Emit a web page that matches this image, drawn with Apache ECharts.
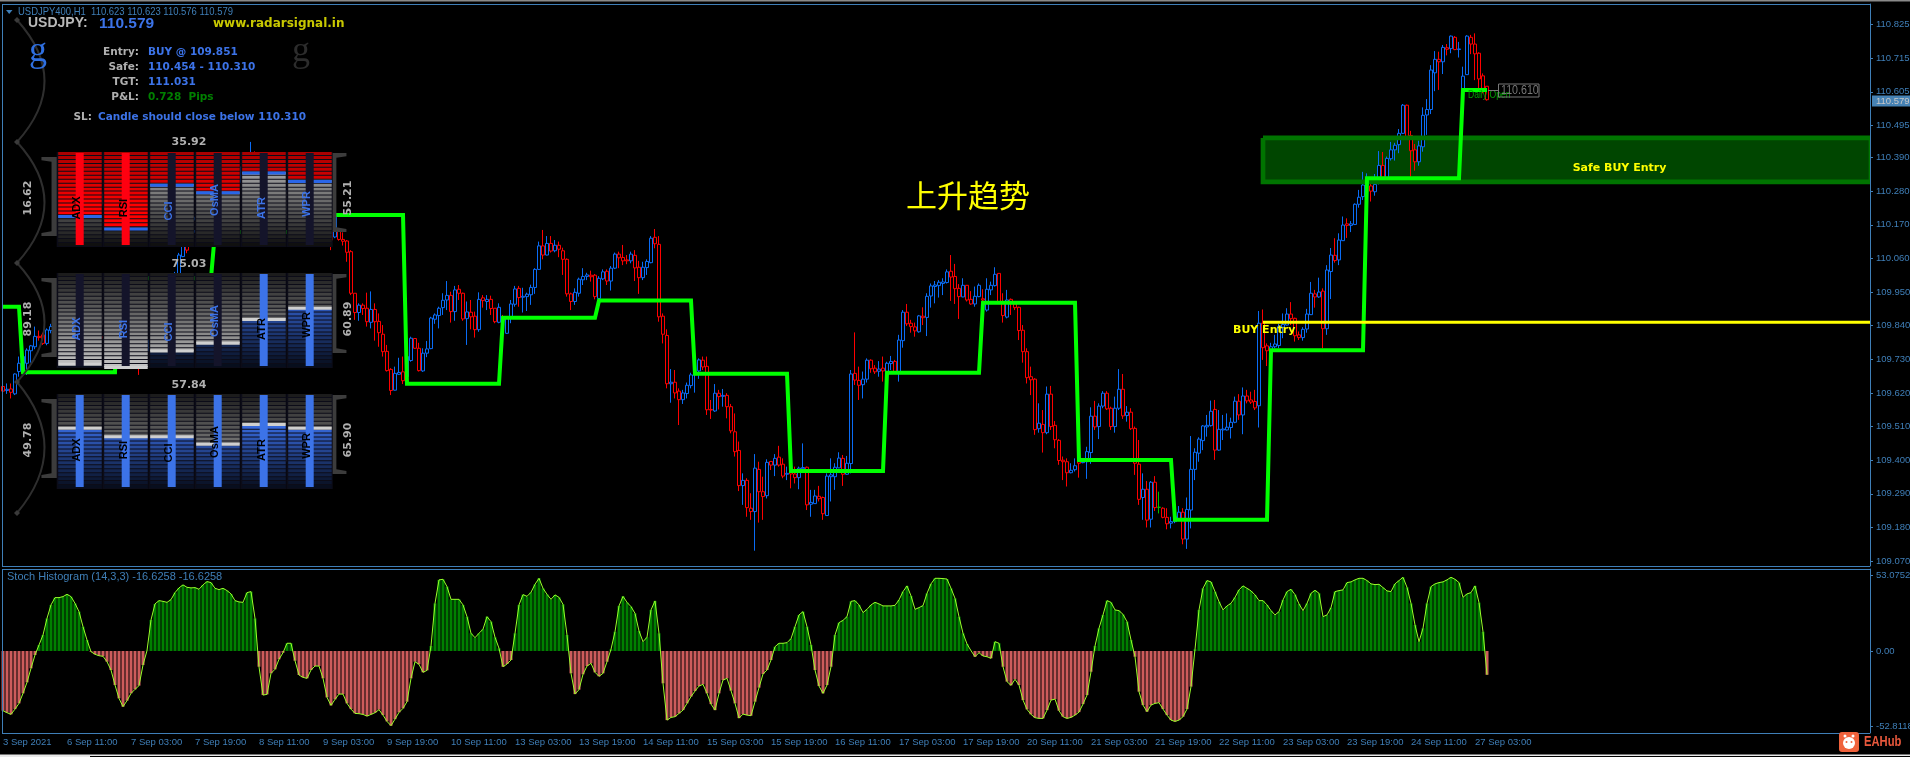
<!DOCTYPE html>
<html><head><meta charset="utf-8"><style>html,body{margin:0;padding:0;background:#000;overflow:hidden}#c{width:1910px;height:757px}</style>
<script src="https://cdn.jsdelivr.net/npm/echarts@6/dist/echarts.min.js"></script></head><body><div id="c"></div>
<script>
const opens=[109.641,109.628,109.633,109.617,109.690,109.690,109.717,109.758,109.771,109.805,
109.810,109.782,109.824,109.837,109.788,109.760,109.791,109.815,109.774,109.739,
109.769,109.802,109.837,109.793,109.819,109.848,109.806,109.769,109.791,109.820,
109.780,109.810,109.758,109.726,109.771,109.717,109.758,109.793,109.769,109.824,
109.856,109.902,109.874,109.944,110.005,110.066,110.120,110.104,110.151,110.186,
110.156,110.216,110.240,110.205,110.271,110.295,110.260,110.314,110.344,110.308,
110.360,110.325,110.384,110.404,110.365,110.325,110.371,110.344,110.292,110.327,
110.284,110.238,110.273,110.222,110.267,110.220,110.178,110.229,110.183,110.218,
110.161,110.123,110.175,110.130,110.153,110.122,110.117,110.082,109.946,109.883,
109.907,109.897,109.851,109.893,109.854,109.812,109.756,109.697,109.629,109.681,
109.689,109.673,109.726,109.798,109.766,109.692,109.750,109.765,109.861,109.873,
109.899,109.924,109.939,109.886,109.959,109.946,109.863,109.884,109.871,109.827,
109.931,109.919,109.926,109.897,109.851,109.869,109.815,109.864,109.910,109.962,
109.933,109.935,109.941,109.965,110.024,110.101,110.071,110.109,110.085,110.103,
110.085,110.057,109.944,109.919,109.946,109.990,110.001,110.005,110.005,109.929,
109.993,110.018,109.986,110.028,110.074,110.063,110.055,110.052,110.070,110.031,
109.997,110.030,110.046,110.129,110.106,109.871,109.808,109.650,109.655,109.626,
109.598,109.618,109.644,109.679,109.692,109.727,109.707,109.566,109.561,109.619,
109.609,109.612,109.575,109.493,109.432,109.317,109.334,109.243,109.232,109.370,
109.297,109.284,109.396,109.384,109.410,109.387,109.354,109.366,109.355,109.343,
109.372,109.377,109.256,109.258,109.282,109.278,109.219,109.346,109.346,109.375,
109.406,109.354,109.389,109.684,109.661,109.647,109.665,109.727,109.701,109.691,
109.701,109.690,109.716,109.723,109.690,109.791,109.884,109.848,109.836,109.820,
109.871,109.867,109.937,109.968,109.971,109.978,109.981,110.018,110.001,109.962,
109.934,109.972,109.926,109.911,109.935,109.928,109.891,109.957,109.971,110.011,
109.919,109.868,109.926,109.911,109.900,109.825,109.755,109.673,109.665,109.503,
109.517,109.490,109.616,109.514,109.465,109.400,109.395,109.359,109.369,109.395,
109.392,109.395,109.425,109.544,109.510,109.577,109.619,109.570,109.510,109.570,
109.632,109.546,109.557,109.504,109.387,109.278,109.305,109.207,109.328,109.246,
109.243,109.213,109.194,109.199,109.207,109.230,109.142,109.237,109.370,109.423,
109.464,109.509,109.513,109.566,109.433,109.499,109.499,109.507,109.524,109.593,
109.548,109.610,109.597,109.592,109.578,109.848,109.774,109.760,109.771,109.775,
109.835,109.842,109.878,109.864,109.810,109.801,109.829,109.876,109.944,109.934,
109.953,109.830,110.017,110.070,110.055,110.118,110.173,110.168,110.171,110.237,
110.262,110.300,110.297,110.278,110.306,110.364,110.323,110.386,110.415,110.432,
110.469,110.561,110.462,110.415,110.376,110.425,110.529,110.547,110.667,110.711,
110.703,110.749,110.746,110.783,110.743,110.613,110.661,110.783,110.761,110.731,110.657,110.623];
const closes=[109.626,109.632,109.622,109.682,109.717,109.739,109.760,109.774,109.805,109.801,
109.782,109.826,109.837,109.788,109.760,109.793,109.815,109.771,109.739,109.771,
109.804,109.837,109.793,109.820,109.848,109.804,109.771,109.793,109.820,109.782,
109.810,109.755,109.728,109.771,109.717,109.760,109.793,109.771,109.826,109.859,
109.902,109.875,109.946,110.006,110.071,110.120,110.087,110.153,110.186,110.158,
110.218,110.240,110.207,110.273,110.295,110.262,110.316,110.344,110.311,110.360,
110.327,110.387,110.404,110.365,110.327,110.371,110.344,110.295,110.327,110.284,
110.240,110.273,110.224,110.267,110.218,110.180,110.229,110.186,110.218,110.158,
110.126,110.175,110.120,110.195,110.122,110.116,110.080,109.946,109.883,109.907,
109.896,109.853,109.893,109.853,109.817,109.755,109.693,109.628,109.684,109.687,
109.660,109.739,109.799,109.766,109.693,109.750,109.764,109.865,109.875,109.897,
109.923,109.939,109.886,109.957,109.946,109.862,109.885,109.869,109.827,109.926,
109.922,109.926,109.896,109.853,109.900,109.859,109.864,109.911,109.960,109.932,
109.936,109.943,109.965,110.024,110.101,110.071,110.109,110.084,110.103,110.090,
110.057,109.944,109.919,109.949,109.992,110.001,110.006,110.000,109.935,109.995,
110.016,109.986,110.028,110.074,110.062,110.052,110.052,110.074,110.029,109.997,
110.031,110.050,110.126,110.108,109.869,109.812,109.650,109.655,109.620,109.598,
109.620,109.645,109.679,109.684,109.728,109.705,109.565,109.564,109.619,109.608,
109.612,109.575,109.496,109.428,109.317,109.334,109.245,109.232,109.374,109.297,
109.281,109.393,109.384,109.406,109.384,109.348,109.357,109.355,109.343,109.374,
109.376,109.254,109.262,109.283,109.274,109.225,109.348,109.352,109.377,109.407,
109.354,109.390,109.682,109.662,109.645,109.665,109.727,109.699,109.689,109.698,
109.692,109.717,109.723,109.690,109.793,109.884,109.846,109.837,109.823,109.872,
109.866,109.936,109.970,109.973,109.982,109.983,110.016,109.999,109.961,109.935,
109.972,109.924,109.911,109.936,109.972,109.924,109.959,109.972,110.008,109.919,
109.873,109.924,109.913,109.899,109.824,109.755,109.670,109.663,109.500,109.521,
109.490,109.616,109.510,109.467,109.399,109.395,109.359,109.367,109.382,109.390,
109.395,109.428,109.544,109.509,109.577,109.619,109.568,109.510,109.570,109.632,
109.545,109.557,109.503,109.390,109.272,109.305,109.204,109.328,109.245,109.246,
109.213,109.192,109.199,109.215,109.230,109.142,109.239,109.370,109.426,109.469,
109.512,109.514,109.560,109.433,109.501,109.502,109.508,109.524,109.593,109.548,
109.610,109.594,109.590,109.571,109.848,109.768,109.758,109.771,109.780,109.837,
109.844,109.878,109.863,109.807,109.801,109.828,109.878,109.946,109.934,109.950,
109.830,110.022,110.071,110.053,110.120,110.169,110.168,110.173,110.237,110.260,
110.300,110.316,110.280,110.302,110.364,110.325,110.387,110.415,110.430,110.469,
110.561,110.458,110.412,110.376,110.428,110.528,110.547,110.676,110.711,110.703,
110.750,110.744,110.787,110.743,110.745,110.656,110.787,110.761,110.729,110.647,110.616,110.579];
const lows=[109.592,109.617,109.602,109.613,109.673,109.684,109.679,109.719,109.763,109.791,
109.777,109.776,109.815,109.774,109.752,109.754,109.784,109.765,109.732,109.732,
109.763,109.795,109.787,109.787,109.813,109.798,109.763,109.763,109.784,109.776,
109.774,109.747,109.721,109.719,109.679,109.710,109.752,109.765,109.765,109.817,
109.850,109.867,109.867,109.940,110.002,110.064,110.077,110.098,110.144,110.151,
110.151,110.207,110.199,110.199,110.262,110.255,110.253,110.306,110.303,110.301,
110.319,110.316,110.377,110.358,110.319,110.316,110.336,110.288,110.284,110.275,
110.231,110.229,110.216,110.214,110.210,110.173,110.170,110.177,110.175,110.151,
110.118,110.116,110.087,110.126,110.118,110.102,110.049,109.940,109.859,109.856,
109.875,109.837,109.831,109.791,109.771,109.739,109.690,109.613,109.628,109.679,
109.649,109.657,109.722,109.764,109.690,109.689,109.737,109.763,109.846,109.831,
109.875,109.891,109.850,109.856,109.924,109.856,109.777,109.828,109.801,109.820,
109.899,109.891,109.875,109.848,109.848,109.842,109.813,109.848,109.902,109.902,
109.883,109.888,109.908,109.944,110.022,110.057,110.070,110.079,110.080,110.064,
110.006,109.935,109.891,109.908,109.935,109.973,109.989,109.984,109.926,109.919,
109.989,109.973,109.955,110.025,110.028,110.038,110.041,110.044,109.986,109.944,
109.989,110.006,110.044,110.093,109.853,109.782,109.635,109.588,109.602,109.515,
109.584,109.602,109.635,109.621,109.666,109.695,109.548,109.535,109.558,109.566,
109.575,109.537,109.488,109.412,109.299,109.254,109.215,109.205,109.104,109.196,
109.205,109.275,109.368,109.348,109.379,109.341,109.335,109.308,109.324,109.305,
109.366,109.237,109.215,109.257,109.265,109.205,109.218,109.265,109.303,109.374,
109.316,109.352,109.357,109.646,109.597,109.602,109.654,109.686,109.682,109.673,
109.657,109.684,109.695,109.686,109.657,109.768,109.839,109.817,109.804,109.817,
109.842,109.806,109.899,109.913,109.932,109.940,109.978,109.921,109.911,109.862,
109.933,109.919,109.908,109.902,109.933,109.913,109.886,109.940,109.968,109.913,
109.850,109.864,109.875,109.891,109.793,109.719,109.651,109.613,109.483,109.490,
109.425,109.485,109.499,109.439,109.385,109.335,109.314,109.357,109.363,109.343,
109.390,109.339,109.388,109.499,109.469,109.570,109.564,109.499,109.490,109.564,
109.535,109.526,109.499,109.352,109.254,109.205,109.180,109.180,109.234,109.226,
109.210,109.174,109.177,109.194,109.205,109.125,109.110,109.177,109.335,109.395,
109.433,109.477,109.510,109.401,109.431,109.466,109.497,109.471,109.521,109.532,
109.485,109.586,109.584,109.564,109.507,109.728,109.708,109.755,109.766,109.766,
109.799,109.841,109.842,109.788,109.793,109.791,109.817,109.875,109.899,109.931,
109.766,109.810,109.927,110.046,110.038,110.117,110.127,110.146,110.169,110.226,
110.251,110.284,110.246,110.265,110.302,110.322,110.321,110.380,110.380,110.404,
110.467,110.456,110.327,110.347,110.363,110.409,110.464,110.532,110.607,110.611,
110.663,110.724,110.731,110.741,110.717,110.611,110.660,110.728,110.643,110.616,110.600,110.576];
const highs=[109.654,109.651,109.651,109.684,109.739,109.750,109.766,109.777,109.837,109.824,
109.817,109.831,109.846,109.848,109.793,109.802,109.824,109.822,109.780,109.778,
109.813,109.842,109.846,109.828,109.856,109.854,109.813,109.800,109.828,109.826,
109.817,109.817,109.765,109.780,109.782,109.767,109.802,109.800,109.835,109.867,
109.911,109.909,109.957,110.016,110.078,110.142,110.129,110.162,110.196,110.194,
110.227,110.249,110.247,110.282,110.303,110.301,110.325,110.351,110.351,110.369,
110.369,110.395,110.441,110.410,110.373,110.380,110.377,110.351,110.336,110.334,
110.290,110.282,110.279,110.275,110.273,110.227,110.238,110.236,110.225,110.227,
110.168,110.183,110.181,110.207,110.158,110.145,110.120,110.087,109.946,109.913,
109.913,109.948,109.952,109.913,109.880,109.842,109.777,109.701,109.706,109.735,
109.739,109.793,109.804,109.799,109.784,109.766,109.790,109.869,109.880,109.902,
109.946,109.986,109.951,109.970,109.973,109.948,109.919,109.924,109.886,109.949,
109.940,109.940,109.938,109.897,109.913,109.875,109.869,109.924,109.970,109.970,
109.964,109.948,109.974,110.028,110.115,110.153,110.133,110.133,110.120,110.115,
110.095,110.060,109.948,109.962,109.997,110.028,110.013,110.020,110.009,110.002,
110.024,110.024,110.035,110.079,110.082,110.104,110.071,110.082,110.087,110.052,
110.049,110.057,110.133,110.156,110.133,109.880,109.828,109.698,109.695,109.635,
109.630,109.654,109.686,109.701,109.733,109.739,109.739,109.597,109.649,109.630,
109.633,109.619,109.584,109.553,109.461,109.357,109.341,109.292,109.420,109.395,
109.346,109.403,109.397,109.420,109.447,109.406,109.379,109.390,109.379,109.379,
109.455,109.379,109.303,109.303,109.316,109.281,109.357,109.406,109.390,109.426,
109.417,109.414,109.695,109.818,109.706,109.690,109.733,109.730,109.711,109.724,
109.739,109.722,109.741,109.728,109.810,109.891,109.911,109.859,109.850,109.875,
109.900,109.946,109.978,109.986,109.989,109.995,110.024,110.071,110.042,109.976,
109.995,109.973,109.953,109.968,109.978,109.959,109.995,109.984,110.031,110.011,
109.946,109.957,109.929,109.919,109.902,109.842,109.766,109.706,109.668,109.586,
109.564,109.641,109.643,109.528,109.469,109.412,109.406,109.390,109.406,109.406,
109.406,109.444,109.573,109.594,109.586,109.626,109.626,109.575,109.608,109.698,
109.682,109.577,109.570,109.510,109.466,109.357,109.332,109.332,109.348,109.297,
109.246,109.243,109.215,109.248,109.250,109.243,109.278,109.479,109.439,109.475,
109.515,109.548,109.595,109.597,109.564,109.548,109.553,109.539,109.608,109.616,
109.638,109.630,109.624,109.630,109.888,109.893,109.782,109.784,109.810,109.846,
109.880,109.897,109.917,109.866,109.821,109.835,109.895,109.983,109.957,109.997,
109.962,110.038,110.094,110.126,110.142,110.197,110.191,110.182,110.240,110.284,
110.343,110.338,110.316,110.336,110.411,110.408,110.393,110.441,110.438,110.483,
110.565,110.563,110.477,110.434,110.445,110.554,110.581,110.692,110.738,110.736,
110.758,110.761,110.789,110.787,110.768,110.687,110.790,110.791,110.796,110.734,110.665,110.623];
const stochValues=[-41.7,-43.1,-44.3,-40.6,-36.6,-29.6,-21.9,-12.1,-2.8,4.2,
11.2,22.8,32.2,37.3,37.3,38.0,39.6,38.0,33.3,27.5,
17.0,7.7,-0.5,-2.3,-3.3,-3.7,-7.5,-13.3,-23.8,-33.1,
-38.9,-34.7,-29.6,-26.8,-24.2,-9.8,0.3,21.7,32.9,35.2,
34.7,34.0,35.9,40.8,44.1,46.2,44.5,44.1,44.3,43.1,
46.2,48.5,47.8,43.8,42.9,43.8,42.2,39.9,35.2,34.3,
34.0,40.8,41.5,22.8,-11.0,-30.8,-30.3,-15.6,-12.8,-5.8,
-1.2,5.4,5.4,-6.8,-16.8,-18.4,-19.1,-13.3,-10.5,-10.5,
-19.1,-32.4,-38.0,-33.8,-30.1,-30.1,-36.6,-40.6,-43.6,-43.8,
-44.3,-45.5,-44.3,-43.1,-41.0,-44.8,-49.2,-52.2,-47.6,-42.9,
-40.1,-35.4,-19.1,-7.5,-9.3,-14.9,-13.5,3.5,33.3,49.7,
50.1,45.0,36.1,36.1,36.1,32.2,24.0,12.4,9.3,12.4,
15.2,24.0,20.5,9.6,1.9,-11.0,-9.1,-6.3,12.4,32.2,
39.4,38.2,41.0,46.6,50.8,43.8,39.6,36.1,39.2,37.5,
32.6,11.2,-15.6,-30.1,-27.0,-16.3,-10.5,-8.6,-14.9,-17.7,
-15.6,-7.5,1.2,13.5,31.5,38.2,34.0,31.0,26.3,14.0,
6.5,9.6,28.7,35.0,12.4,-22.6,-48.3,-46.4,-45.9,-43.6,
-41.3,-36.6,-31.9,-28.0,-24.5,-23.3,-29.6,-37.1,-41.3,-29.6,
-20.3,-19.1,-27.7,-36.6,-46.9,-44.1,-44.8,-45.2,-35.4,-25.6,
-16.1,-13.3,-6.3,3.0,5.4,5.4,5.8,8.6,17.0,25.2,
27.5,17.0,4.2,-13.3,-24.5,-29.6,-23.8,-11.0,11.2,19.8,
21.4,24.0,34.7,35.2,32.2,26.8,29.1,32.2,34.0,32.9,
31.5,31.5,31.5,31.9,35.7,41.5,45.5,38.5,29.1,30.3,
31.7,40.3,46.9,50.8,50.8,50.6,50.3,43.8,36.8,24.0,
12.4,4.9,0.2,-4.0,-1.2,-3.5,-4.0,-5.1,6.5,5.4,
-11.0,-21.4,-24.0,-19.8,-23.8,-34.3,-40.8,-44.3,-46.6,-47.1,
-47.1,-41.3,-34.3,-33.6,-41.7,-45.9,-47.1,-46.4,-44.8,-42.7,
-37.1,-30.8,-14.5,3.5,15.9,25.2,35.2,34.0,28.7,28.2,
25.6,20.5,7.7,-4.0,-28.4,-37.8,-42.4,-37.8,-36.6,-36.1,
-40.6,-44.8,-48.3,-49.2,-48.3,-45.9,-40.6,-24.9,1.2,28.7,
43.8,49.2,48.3,41.5,34.5,28.7,31.5,33.3,37.5,42.7,
45.5,43.8,42.0,39.2,35.2,35.2,32.2,28.2,25.2,27.5,
35.7,41.5,43.1,39.4,32.9,28.2,33.3,40.3,42.4,40.3,
24.0,25.2,30.3,41.5,42.2,42.7,47.8,48.3,49.7,50.8,
50.8,49.2,46.9,46.4,46.6,44.3,42.0,41.5,46.9,49.2,
51.5,44.5,33.3,18.2,6.5,15.9,33.3,45.0,46.9,47.8,
48.3,49.7,51.5,50.1,47.8,37.5,39.9,40.8,45.5,33.8,13.5,-16.6258];
const dailyEndBars=[4,28,52,76,100,124,148,172,196,220,244,268,292,316,340,364,371];
const dailyLevels=[109.902,109.688,109.995,110.146,110.202,109.650,109.866,109.922,109.683,109.365,109.686,109.915,109.401,109.205,109.760,110.322,110.611];
const timeLabels=['3 Sep 2021','6 Sep 11:00','7 Sep 03:00','7 Sep 19:00','8 Sep 11:00','9 Sep 03:00','9 Sep 19:00','10 Sep 11:00','13 Sep 03:00','13 Sep 19:00','14 Sep 11:00','15 Sep 03:00','15 Sep 19:00','16 Sep 11:00','17 Sep 03:00','17 Sep 19:00','20 Sep 11:00','21 Sep 03:00','21 Sep 19:00','22 Sep 11:00','23 Sep 03:00','23 Sep 19:00','24 Sep 11:00','27 Sep 03:00'];
const priceTicks=[110.825,110.715,110.605,110.495,110.390,110.280,110.170,110.060,109.950,109.840,109.730,109.620,109.510,109.400,109.290,109.180,109.070];
const stochTicks=[53.0752,0,-52.8118];
const safeTop=110.454, safeBottom=110.310, buyEntry=109.851;
const meterNames=['ADX','RSI','CCI','OsMA','ATR','WPR'];
const meter1=[32,19,65,57,78,69];
const meter2=[4,0.5,18,26,51,63];
const meter3=[64,55,55,47,68,64];
const meterTop=['35.92','75.03','57.84'], meterLeft=['16.62','89.18','49.78'], meterRight=['55.21','60.89','65.90'];

const BLUE='#3f7fb8', SANS='"Liberation Sans",sans-serif', BOLD='bold 10.5px "DejaVu Sans"';
const N=468;
const cats=Array.from({length:N},(_,i)=>(i%16===0&&timeLabels[i/16])||'');
const candles=opens.map((o,i)=>[o,closes[i],lows[i],highs[i]]);
const daily=opens.map((_,i)=>dailyLevels[dailyEndBars.findIndex(e=>i<=e)]);
const hasLabel=(i,v)=>i%16===0&&i/16<timeLabels.length;

function scale(c,b){return 'rgb('+c.map(v=>Math.max(0,Math.min(255,Math.round(v*b)))).join(',')+')';}
const RED=[255,0,0],GRAY=[205,205,205],ROYAL=[60,115,240];
const meterStyles=[
 {up:RED,upB:t=>Math.min(1,.66+.6*t),lo:GRAY,loB:t=>.06+.95*(1-t),mark:'#2a66e8',bars:['#ff0010','#ff0010','#14142a','#14142a','#14142a','#14142a']},
 {up:GRAY,upB:t=>.12+.85*t,lo:ROYAL,loB:t=>.1+1.05*(1-t),mark:'#cfcfcf',bars:['#14142a','#14142a','#14142a','#14142a','#3c73e8','#3c73e8']},
 {up:GRAY,upB:t=>.12+.85*t,lo:ROYAL,loB:t=>.1+1.25*(1-t),mark:'#cfcfcf',bars:Array(6).fill('#3c73e8')}
];
function meterItem(style){return function(params,api){
 const idx=api.value(0),lvl=api.value(1);
 const c=api.coord([idx,0]),top=api.coord([idx,100])[1],bot=c[1],bw=api.size([1,0])[0];
 const l=c[0]-bw/2,H=bot-top,rows=24,rh=H/rows,ch=[];
 ch.push({type:'rect',shape:{x:l,y:top,width:bw,height:H},style:{fill:'#0c0c18'}});
 const my=bot-lvl/100*H;
 for(let r=0;r<rows;r++){const y=top+r*rh,t=(r+.5)/rows,above=y+rh/2<my;
  ch.push({type:'rect',shape:{x:l+1.5,y:y,width:bw-2.5,height:rh-1},style:{fill:above?scale(style.up,style.upB(t)):scale(style.lo,style.loB(t))}});}
 ch.push({type:'rect',shape:{x:l+1.5,y:my-1.5,width:bw-2.5,height:3},style:{fill:style.mark}});
 ch.push({type:'rect',shape:{x:c[0]-4,y:top+1,width:8,height:H-3},style:{fill:style.bars[idx]}});
 return {type:'group',children:ch};
};}

const meterGrids=[152,273,394].map(t=>({left:56.7,top:t,width:276,height:95,outerBoundsMode:'none'}));
const grids=[{left:1,top:4,width:1872,height:562,outerBoundsMode:'none'},{left:1,top:569,width:1872,height:164,outerBoundsMode:'none'},...meterGrids];
const xAxes=[
 {type:'category',gridIndex:0,data:cats,show:false},
 {type:'category',gridIndex:1,data:cats,z:50,axisLine:{show:false},
  axisTick:{alignWithLabel:true,interval:hasLabel,length:3,lineStyle:{color:BLUE}},
  axisLabel:{interval:hasLabel,align:'left',color:BLUE,fontSize:9.5,fontFamily:SANS,margin:4,hideOverlap:false}},
 ...[2,3,4].map(g=>({type:'category',gridIndex:g,data:meterNames,show:false}))];
const yAxes=[
 {type:'value',gridIndex:0,position:'right',offset:-3,min:109.054,max:110.892,z:50,splitLine:{show:false},
  axisLine:{show:true,lineStyle:{color:BLUE}},axisTick:{show:true,length:3,customValues:priceTicks,lineStyle:{color:BLUE}},
  axisLabel:{customValues:priceTicks,color:BLUE,fontSize:9.5,fontFamily:SANS,margin:6,formatter:v=>(+v).toFixed(3)}},
 {type:'value',gridIndex:1,position:'right',offset:-3,min:-57.3,max:57.3,z:50,splitLine:{show:false},
  axisLine:{show:true,lineStyle:{color:BLUE}},axisTick:{show:true,length:3,customValues:stochTicks,lineStyle:{color:BLUE}},
  axisLabel:{customValues:stochTicks,color:BLUE,fontSize:9.5,fontFamily:SANS,margin:6,formatter:v=>v===0?'0.00':String(v)}},
 ...[2,3,4].map(g=>({type:'value',gridIndex:g,min:0,max:100,show:false}))];

const series=[
 {type:'candlestick',xAxisIndex:0,yAxisIndex:0,z:2,barWidth:3,data:candles,silent:true,large:false,progressive:0,
  itemStyle:{color:'#000',color0:'#000',borderColor:'#0a6cf5',borderColor0:'#ff0000',borderColorDoji:'#00c000',borderWidth:1},
  markArea:{silent:true,z:1,itemStyle:{color:'#004600'},data:[[{xAxis:315,yAxis:safeTop},{xAxis:467,yAxis:safeBottom}]]}},
 {type:'line',xAxisIndex:0,yAxisIndex:0,z:3,symbol:'none',silent:true,lineStyle:{color:'#007400',width:4.7,join:'miter'},
  data:[[315,safeTop],[467,safeTop],[467,safeBottom],[315,safeBottom],[315,safeTop]]},
 {type:'line',xAxisIndex:0,yAxisIndex:0,z:4,symbol:'none',silent:true,lineStyle:{color:'#00ff00',width:4,join:'miter'},data:daily},
 {type:'line',xAxisIndex:0,yAxisIndex:0,z:5,symbol:'none',silent:true,lineStyle:{color:'#ffff00',width:3},data:[[315,buyEntry],[467,buyEntry]]},
 {type:'bar',xAxisIndex:1,yAxisIndex:1,z:2,barWidth:3,silent:true,data:stochValues,itemStyle:{color:p=>p.value>=0?'#008000':'#cd5c5c'}},
 {type:'line',xAxisIndex:1,yAxisIndex:1,z:3,symbol:'none',silent:true,lineStyle:{color:'#9aff2a',width:1},data:stochValues},
 ...[meter1,meter2,meter3].map((vals,k)=>({type:'custom',xAxisIndex:2+k,yAxisIndex:2+k,z:30,silent:true,clip:false,
   renderItem:meterItem(meterStyles[k]),data:vals.map((v,i)=>[i,v])}))
];

function T(x,y,text,fill,font,o){o=o||{};return {type:'text',x,y,rotation:o.rot||0,scaleX:o.sx||1,z:o.z||40,silent:true,
  style:{text,x:0,y:0,fill,font,textAlign:o.align||'left',textVerticalAlign:'middle'}};}
function R(x,y,w,h,fill,z,r){return {type:'rect',z:z||40,silent:true,shape:{x,y,width:w,height:h,r:r||0},style:{fill}};}
const g=[];
// outside cover + frame
g.push(R(1871,0,39,757,'#000',6));
g.push(R(0,0,1910,1.5,'#8a8a8a',45));
[[2,4,1868,1],[2,4,1,562],[2,566,1868,1],[2,569,1868,1],[2,569,1,164],[2,733,1868,1]].forEach(a=>g.push(R(a[0],a[1],a[2],a[3],BLUE,45)));
g.push(R(0,754.5,1910,1.5,'#e8e8e8',45),R(0,756,90,1,'#e8e8e8',45));
// header
g.push({type:'polygon',z:45,silent:true,shape:{points:[[6,10],[12.5,10],[9.2,14]]},style:{fill:BLUE}});
g.push(T(18,12,'USDJPY400,H1  110.623 110.623 110.576 110.579',BLUE,'11px '+SANS,{sx:.86}));
g.push(T(28,23.5,'USDJPY:','#b8b8b8','bold 14px "Liberation Sans"'));
g.push(T(99,23.5,'110.579','#3c73e8','bold 15.5px "Liberation Sans"'));
g.push(T(213,24,'www.radarsignal.in','#c8c800','bold 12px "DejaVu Sans"'));
g.push(T(38,52,'g','#2f6fe0','36px "Liberation Serif"',{align:'center'}));
g.push(T(301,52,'g','#2c2c2c','36px "Liberation Serif"',{align:'center'}));
[['Entry:',52],['Safe:',67],['TGT:',82],['P&L:',97]].forEach(a=>g.push(T(139,a[1],a[0],'#b0b0b0',BOLD,{align:'right'})));
g.push(T(148,52,'BUY @ 109.851','#3c73e8',BOLD),T(148,67,'110.454 - 110.310','#3c73e8',BOLD),T(148,82,'111.031','#3c73e8',BOLD));
g.push(T(148,97,'0.728  Pips','#008000',BOLD));
g.push(T(92,117,'SL:','#b0b0b0',BOLD,{align:'right'}),T(98,117,'Candle should close below 110.310','#3c73e8',BOLD));
// ornaments
[[17,20,17,142],[17,142,17,263],[17,263,17,382],[17,382,17,513]].forEach(a=>{
  g.push({type:'bezierCurve',z:20,silent:true,shape:{x1:a[0],y1:a[1],x2:a[2],y2:a[3],cpx1:72,cpy1:(a[1]+a[3])/2},style:{stroke:'#2e2e2e',lineWidth:2,fill:null}});
  g.push({type:'polygon',z:20,silent:true,shape:{points:[[a[0]-3,a[1]],[a[0],a[1]-3],[a[0]+3,a[1]],[a[0],a[1]+3]]},style:{fill:'#3a3a3a'}});});
g.push({type:'polygon',z:20,silent:true,shape:{points:[[14,513],[17,510],[20,513],[17,516]]},style:{fill:'#3a3a3a'}});
[0,121,242].forEach(dy=>{
  g.push(T(38,204+dy,'M','#3c3c3c','120px "Liberation Serif"',{z:20}));
  g.push(T(350,200+dy,'M','#3c3c3c','120px "Liberation Serif"',{z:20,align:'right'}));
});
// meter labels
const nameY=[208,208,211,200,208,204], nameX=[77,124,169,215,262,307];
const nameColors=[['#000','#000','#3c73e8','#3c73e8','#3c73e8','#3c73e8'],['#3c73e8','#3c73e8','#3c73e8','#3c73e8','#000','#000'],Array(6).fill('#000')];
[0,1,2].forEach(k=>{const dy=k*121;
  meterNames.forEach((n,i)=>g.push(T(nameX[i],nameY[i]+dy,n,nameColors[k][i],'bold 11px "Liberation Sans"',{rot:Math.PI/2,align:'center'})));
  g.push(T(189,142+dy+(k?1:0),meterTop[k],'#b0b0b0','bold 11px "DejaVu Sans"',{align:'center'}));
  g.push(T(28,198+dy,meterLeft[k],'#b0b0b0','bold 11px "DejaVu Sans"',{rot:Math.PI/2,align:'center'}));
  g.push(T(348,198+dy,meterRight[k],'#b0b0b0','bold 11px "DejaVu Sans"',{rot:Math.PI/2,align:'center'}));
});
// annotations
g.push(T(968,195,'上升趋势','#ffff00','31px "Noto Sans CJK SC"',{align:'center'}));
g.push(T(1619.5,168,'Safe BUY Entry','#ffff00','bold 11px "DejaVu Sans"',{align:'center'}));
g.push(T(1233,330,'BUY Entry','#ffff00','bold 11px "DejaVu Sans"'));
g.push(T(1468,95,'Daily Open','#00a000','11px '+SANS,{sx:.78}));
g.push({type:'rect',z:40,silent:true,shape:{x:1498.5,y:84,width:40.5,height:13},style:{fill:'rgba(0,0,0,0)',stroke:'#777',lineWidth:1}});
g.push(T(1501,90.5,'110.610','#777','13px '+SANS,{sx:.82}));
g.push(R(1488,90,10.5,1,'#777',40));
g.push(T(7,576.7,'Stoch Histogram (14,3,3) -16.6258 -16.6258',BLUE,'11px '+SANS));
// current price tag
g.push(R(1872,95.5,38,11,'#4682b4',55),T(1876,101,'110.579','#c8c8c8','9.5px '+SANS,{z:56}));
// EAHub logo
g.push(R(1839,732,20,20,'#f0623c',45,3));
g.push({type:'circle',z:46,silent:true,shape:{cx:1849,cy:743,r:6},style:{fill:'#fff'}});
g.push({type:'circle',z:46,silent:true,shape:{cx:1845,cy:736,r:1.5},style:{fill:'#fff'}},{type:'circle',z:46,silent:true,shape:{cx:1853,cy:736,r:1.5},style:{fill:'#fff'}});
g.push({type:'circle',z:47,silent:true,shape:{cx:1846.5,cy:742,r:1},style:{fill:'#f0623c'}},{type:'circle',z:47,silent:true,shape:{cx:1851.5,cy:742,r:1},style:{fill:'#f0623c'}});
g.push(T(1864,742.5,'EAHub','#e8583c','bold 14px '+SANS,{z:46,sx:.8}));

const chart=echarts.init(document.getElementById('c'),null,{renderer:'canvas',width:1910,height:757});
chart.setOption({animation:false,backgroundColor:'#000',tooltip:{show:false},grid:grids,xAxis:xAxes,yAxis:yAxes,series,graphic:{elements:g}});
</script></body></html>
